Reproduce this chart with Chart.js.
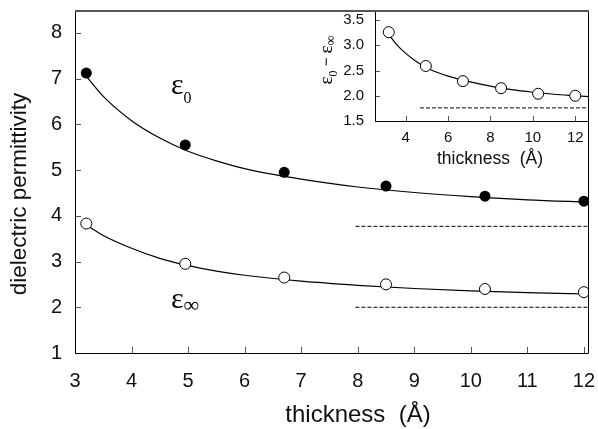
<!DOCTYPE html>
<html>
<head>
<meta charset="utf-8">
<script src="https://cdn.jsdelivr.net/npm/chart.js@4.4.0/dist/chart.umd.min.js"></script>
<style>
  html, body { margin: 0; padding: 0; background: #fff; }
  #wrap { position: relative; width: 598px; height: 429px; }
  #main { position: absolute; left: 0; top: 0; }
  #inset { position: absolute; left: 280px; top: 0; }
</style>
</head>
<body>
<div id="wrap">
  <canvas id="main" width="598" height="429"></canvas>
  <canvas id="inset" width="318" height="180"></canvas>
</div>
<script>
  // ── Data ──
  var thickness = [3.2, 4.95, 6.7, 8.5, 10.25, 12.0];
  var eps0      = [7.12, 5.55, 4.95, 4.65, 4.43, 4.32];
  var epsInf    = [3.83, 2.95, 2.65, 2.50, 2.40, 2.33];
  var epsDiff   = [3.26, 2.59, 2.29, 2.15, 2.04, 2.00];

  // fitted curves (sampled from the drawn lines)
  var fitX      = [3.2, 3.5, 4.0, 4.5, 5.0, 5.5, 6.0, 7.0, 8.0, 9.0, 10.0, 11.0, 12.1];
  var fitEps0   = [7.05, 6.61, 6.08, 5.70, 5.41, 5.20, 5.03, 4.80, 4.63, 4.51, 4.42, 4.35, 4.30];
  var fitEpsInf = [3.80, 3.57, 3.29, 3.07, 2.91, 2.79, 2.70, 2.57, 2.48, 2.41, 2.36, 2.32, 2.29];
  var fitDiffX  = [3.2, 3.5, 4.0, 4.5, 5.0, 5.5, 6.0, 7.0, 8.0, 9.0, 10.0, 11.0, 12.0, 12.7];
  var fitDiff   = [3.22, 3.05, 2.84, 2.68, 2.55, 2.46, 2.39, 2.28, 2.19, 2.12, 2.07, 2.03, 2.00, 1.98];

  // bulk limits (dashed)
  var limitX      = [7.96, 12.1];
  var eps0Limit   = 3.77;
  var epsInfLimit = 2.0;
  var diffLimitX  = [4.67, 12.7];
  var diffLimit   = 1.76;

  // ticks
  var mainXTicks  = [3, 4, 5, 6, 7, 8, 9, 10, 11, 12];
  var mainYTicks  = [1, 2, 3, 4, 5, 6, 7, 8];
  var insetXTicks = [4, 6, 8, 10, 12];
  var insetYTicks = [1.5, 2.0, 2.5, 3.0, 3.5];

  var SANS  = '"Liberation Sans", Arial, sans-serif';
  var SERIF = '"Liberation Serif", "DejaVu Serif", serif';

  function pts(xs, ys) {
    var out = [];
    for (var i = 0; i < xs.length; i++) out.push({ x: xs[i], y: ys[i] });
    return out;
  }
  function flat(xs, v) {
    return xs.map(function (x) { return { x: x, y: v }; });
  }
  function fixedTicks(list) {
    return function (scale) {
      scale.ticks = list.map(function (v) { return { value: v }; });
    };
  }
  // fixed axis size, no extra label overhang padding
  function fitX_(h) {
    return function (s) { s.height = h; s.paddingLeft = 0; s.paddingRight = 0; };
  }
  function fitY_(w) {
    return function (s) { s.width = w; s.paddingTop = 0; s.paddingBottom = 0; };
  }

  // inward ticks + frame
  var frameTicks = {
    id: 'frameTicks',
    afterDatasetsDraw: function (chart, args, opts) {
      var a = chart.chartArea, ctx = chart.ctx;
      var xs = chart.scales.x, ys = chart.scales.y;
      ctx.save();
      ctx.strokeStyle = '#555';
      ctx.lineWidth = 1;
      xs.ticks.forEach(function (t) {
        var px = Math.round(xs.getPixelForValue(t.value)) + 0.5;
        ctx.beginPath(); ctx.moveTo(px, a.bottom); ctx.lineTo(px, a.bottom - opts.tick); ctx.stroke();
      });
      ys.ticks.forEach(function (t) {
        var py = Math.round(ys.getPixelForValue(t.value)) + 0.5;
        ctx.beginPath(); ctx.moveTo(a.left, py); ctx.lineTo(a.left + opts.tick, py); ctx.stroke();
      });
      var l = Math.round(a.left) + 0.5, r = Math.round(a.right) - 0.5, b = Math.round(a.bottom) + 0.5;
      ctx.strokeStyle = '#000';
      ctx.beginPath();
      ctx.moveTo(l, a.top); ctx.lineTo(l, b); ctx.lineTo(r, b); ctx.lineTo(r, a.top);
      ctx.stroke();
      ctx.strokeStyle = '#555';
      ctx.lineWidth = 2;
      ctx.beginPath(); ctx.moveTo(a.left, a.top + 1); ctx.lineTo(a.right, a.top + 1); ctx.stroke();
      ctx.restore();
    }
  };

  var whiteArea = {
    id: 'whiteArea',
    beforeDraw: function (chart) {
      var a = chart.chartArea, ctx = chart.ctx;
      ctx.save();
      ctx.fillStyle = '#fff';
      ctx.fillRect(a.left, a.top, a.right - a.left, a.bottom - a.top);
      ctx.restore();
    }
  };

  // ε with subscript
  function drawSym(ctx, x, y, size, sub, subSize, subDrop) {
    ctx.font = size + 'px ' + SERIF;
    ctx.fillText('\u03b5', x, y);
    var w = ctx.measureText('\u03b5').width;
    ctx.font = subSize + 'px ' + SERIF;
    ctx.fillText(sub, x + w, y + subDrop);
  }

  var mainText = {
    id: 'mainText',
    afterDraw: function (chart) {
      var ctx = chart.ctx;
      ctx.save();
      ctx.fillStyle = '#000';
      ctx.textAlign = 'left';
      ctx.textBaseline = 'alphabetic';
      drawSym(ctx, 171, 94, 30, '0', 16, 9);
      drawSym(ctx, 171, 308, 30, '\u221e', 22, 4);
      ctx.fillStyle = '#111';
      ctx.textAlign = 'center';
      ctx.font = '24px ' + SANS;
      ctx.fillText('thickness  (\u00c5)', 358, 422);
      ctx.font = '22.5px ' + SANS;
      ctx.translate(26, 194);
      ctx.rotate(-Math.PI / 2);
      ctx.fillText('dielectric permittivity', 0, 0);
      ctx.restore();
    }
  };

  var insetText = {
    id: 'insetText',
    afterDraw: function (chart) {
      var ctx = chart.ctx;
      ctx.save();
      ctx.fillStyle = '#111';
      ctx.textAlign = 'center';
      ctx.textBaseline = 'alphabetic';
      ctx.font = '17.5px ' + SANS;
      ctx.fillText('thickness  (\u00c5)', 490 - 280, 164);
      // rotated y title: ε0 − ε∞
      ctx.translate(332 - 280, 60);
      ctx.rotate(-Math.PI / 2);
      ctx.textAlign = 'left';
      var parts = [
        { t: '\u03b5', f: '19px ' + SERIF, dy: 0 },
        { t: '0', f: '12px ' + SERIF, dy: 5 },
        { t: ' \u2212 ', f: '15px ' + SANS, dy: -1 },
        { t: '\u03b5', f: '19px ' + SERIF, dy: 0 },
        { t: '\u221e', f: '14px ' + SERIF, dy: 3 }
      ];
      var total = 0;
      parts.forEach(function (p) { ctx.font = p.f; p.w = ctx.measureText(p.t).width; total += p.w; });
      var cx = -total / 2;
      ctx.fillStyle = '#000';
      parts.forEach(function (p) { ctx.font = p.f; ctx.fillText(p.t, cx, p.dy); cx += p.w; });
      ctx.restore();
    }
  };

  var curveStyle = {
    borderColor: '#000', borderWidth: 1.2, pointRadius: 0, showLine: true,
    fill: false, cubicInterpolationMode: 'monotone', order: 2
  };
  var dashStyle = {
    borderColor: '#000', borderWidth: 1, borderDash: [4, 2], pointRadius: 0,
    showLine: true, fill: false, order: 3
  };
  var openStyle = {
    pointRadius: 5.5, pointBackgroundColor: '#fff', pointBorderColor: '#000',
    pointBorderWidth: 1, showLine: false, order: 0
  };
  var filledStyle = {
    pointRadius: 5.5, pointBackgroundColor: '#000', pointBorderColor: '#000',
    pointBorderWidth: 0, showLine: false, order: 0
  };

  function ds(style, data) {
    return Object.assign({}, style, { data: data });
  }

  // ── Main chart ──
  new Chart(document.getElementById('main').getContext('2d'), {
    type: 'scatter',
    data: {
      datasets: [
        ds(curveStyle, pts(fitX, fitEps0)),
        ds(curveStyle, pts(fitX, fitEpsInf)),
        ds(dashStyle, flat(limitX, eps0Limit)),
        ds(dashStyle, flat(limitX, epsInfLimit)),
        ds(filledStyle, pts(thickness, eps0)),
        ds(openStyle, pts(thickness, epsInf))
      ]
    },
    options: {
      responsive: false,
      animation: false,
      events: [],
      layout: { padding: { left: 0, top: 10, right: 9, bottom: 0 } },
      plugins: { legend: { display: false }, tooltip: { enabled: false }, frameTicks: { tick: 6 } },
      scales: {
        x: {
          type: 'linear', min: 3, max: 12.09,
          afterBuildTicks: fixedTicks(mainXTicks),
          afterFit: fitX_(76),
          grid: { display: false, drawTicks: false },
          border: { display: false },
          ticks: { color: '#111', font: { family: SANS, size: 20 }, padding: 16, maxRotation: 0, autoSkip: false }
        },
        y: {
          type: 'linear', min: 1, max: 8.5,
          afterBuildTicks: fixedTicks(mainYTicks),
          afterFit: fitY_(75),
          grid: { display: false, drawTicks: false },
          border: { display: false },
          ticks: { color: '#111', font: { family: SANS, size: 20 }, padding: 13, autoSkip: false }
        }
      }
    },
    plugins: [frameTicks, mainText]
  });

  // ── Inset chart ──
  new Chart(document.getElementById('inset').getContext('2d'), {
    type: 'scatter',
    data: {
      datasets: [
        ds(curveStyle, pts(fitDiffX, fitDiff)),
        ds(dashStyle, flat(diffLimitX, diffLimit)),
        ds(openStyle, pts(thickness, epsDiff))
      ]
    },
    options: {
      responsive: false,
      animation: false,
      events: [],
      layout: { padding: { left: 0, top: 10, right: 9, bottom: 0 } },
      plugins: { legend: { display: false }, tooltip: { enabled: false }, frameTicks: { tick: 5 } },
      scales: {
        x: {
          type: 'linear', min: 2.55, max: 12.65,
          afterBuildTicks: fixedTicks(insetXTicks),
          afterFit: fitX_(59),
          grid: { display: false, drawTicks: false },
          border: { display: false },
          ticks: { color: '#111', font: { family: SANS, size: 15 }, padding: 8, maxRotation: 0, autoSkip: false }
        },
        y: {
          type: 'linear', min: 1.5, max: 3.7,
          afterBuildTicks: fixedTicks(insetYTicks),
          afterFit: fitY_(95),
          grid: { display: false, drawTicks: false },
          border: { display: false },
          ticks: {
            color: '#111', font: { family: SANS, size: 15 }, padding: 11, autoSkip: false,
            callback: function (v) { return v.toFixed(1); }
          }
        }
      }
    },
    plugins: [whiteArea, frameTicks, insetText]
  });
</script>
</body>
</html>
